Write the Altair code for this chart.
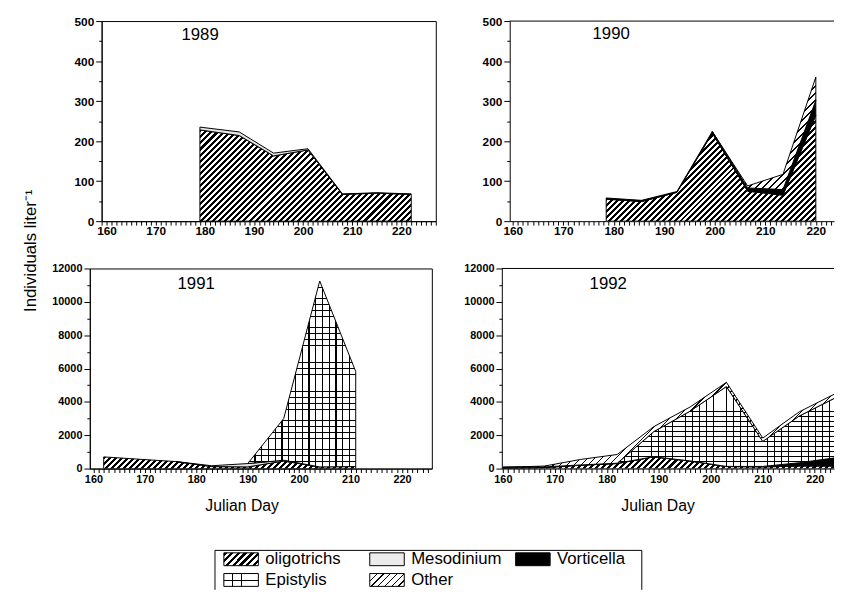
import math
import altair as alt
import numpy as np
import pandas as pd

FONT = "Liberation Sans"
SPECIES = ["oligotrichs", "Vorticella", "Mesodinium", "Epistylis", "Other"]  # stacking order, bottom -> top
Y_TITLE = "Individuals liter\u207b\u00b9"
X_TITLE = "Julian Day"

# ---------------- data ----------------
days_1989 = [179, 187, 194, 201, 208, 215, 222]
oligotrichs_1989 = [228, 214, 163, 178, 67, 70, 67]
mesodinium_1989 = [7, 9, 7, 3, 1, 1, 1]

days_1990 = [178.5, 185.5, 192.5, 199.5, 206.5, 213.5, 220]
oligotrichs_1990 = [55, 49, 72, 220, 75, 65, 265]
vorticella_1990 = [3, 3, 2, 4, 8, 14, 37]
other_1990 = [0, 0, 0, 0, 5, 38, 58]

days_1991 = [162, 169, 176, 183, 190, 197, 204, 211]
oligotrichs_1991 = [700, 560, 420, 120, 100, 450, 100, 120]
mesodinium_1991 = [0, 0, 0, 50, 200, 50, 0, 0]
epistylis_1991 = [0, 0, 0, 0, 0, 2500, 11150, 5700]

days_1992 = [160, 168, 175, 182, 189, 196, 203, 210, 217, 224]
oligotrichs_1992 = [20, 60, 200, 300, 700, 450, 120, 100, 150, 150]
vorticella_1992 = [60, 40, 20, 20, 10, 10, 10, 30, 200, 500]
epistylis_1992 = [0, 0, 0, 0, 1500, 2980, 4790, 1500, 2800, 3600]
other_1992 = [0, 50, 330, 525, 300, 250, 250, 200, 250, 250]

legend_names = ["oligotrichs", "Mesodinium", "Vorticella", "Epistylis", "Other"]
legend_cols = [0, 1, 2, 0, 1]
legend_rows = [0, 0, 0, 1, 1]


# ---------------- pattern fills built from linear gradients ----------------
def stripe_stops(n, frac, line, bg):
    out = []
    for i in range(n):
        s, e, f = i / n, (i + frac) / n, (i + 1) / n
        out += [(s, line), (e, line), (e, bg), (f, bg)]
    return [alt.GradientStop(offset=round(o, 5), color=c) for o, c in out]


def pow2_count(length, spacing, frac):
    """stripe count as a power of two, line fraction snapped to 1/256 steps"""
    raw = max(1.0, length / spacing)
    n = 2 ** int(round(math.log2(raw)))
    n = max(2, min(64, n))
    per = 256 // n
    k = max(1, int(round(frac * per)))
    return n, k / per


def diag_fill(W, H, spacing, frac, line="black", bg="white"):
    W, H = max(W, 1.0), max(H, 1.0)
    k = (W + H) / (W * W + H * H)
    n = max(1, int(round((W + H) / math.sqrt(2) / spacing)))
    return alt.LinearGradient(gradient="linear", stops=stripe_stops(n, frac, line, bg),
                              x1=0, y1=0, x2=round(k * W, 5), y2=round(k * H, 5))


def vlines_fill(W, spacing, frac, line="black", bg="white"):
    n, fr = pow2_count(max(W, 1.0), spacing, frac)
    return alt.LinearGradient(gradient="linear", stops=stripe_stops(n, fr, line, bg),
                              x1=0, y1=0, x2=1, y2=0)


def hlines_fill(H, spacing, frac, line="black", bg="rgba(255,255,255,0)"):
    n, fr = pow2_count(max(H, 1.0), spacing, frac)
    return alt.LinearGradient(gradient="linear", stops=stripe_stops(n, fr, line, bg),
                              x1=0, y1=0, x2=0, y2=1)


def fills_for(sp, W, H, grid_sp=6.5):
    """list of (fill, stroked) layers for one species"""
    if sp == "oligotrichs":
        return [(diag_fill(W, H, 4.3, 0.5), True)]
    if sp == "Other":
        return [(diag_fill(W, H, 5.0, 0.22), True)]
    if sp == "Mesodinium":
        return [("#e4e4e4", True)]
    if sp == "Vorticella":
        return [("black", True)]
    if sp == "Epistylis":
        return [(vlines_fill(W, grid_sp, 0.17), True), (hlines_fill(H, grid_sp, 0.17), False)]
    return []


# ---------------- one panel ----------------
def panel(year, days, series, xdom, ymax, ystep, lstep, width, height, yext, lab_fs,
          label_px, left_frame, xtitle_x=None):
    pxd = width / (xdom[1] - xdom[0])
    pxu = height / ymax
    rows, boxes = [], {}
    base = np.zeros(len(days))
    for order, sp in enumerate(SPECIES):
        if sp not in series:
            continue
        v = np.array(series[sp], dtype=float)
        nz = [i for i, x in enumerate(v) if x > 0]
        lo, hi = max(nz[0] - 1, 0), min(nz[-1] + 1, len(v) - 1)
        y0, y1 = base.copy(), base + v
        boxes[sp] = ((days[hi] - days[lo]) * pxd,
                     (y1[lo:hi + 1].max() - y0[lo:hi + 1].min()) * pxu)
        for i in range(lo, hi + 1):
            rows.append({"day": days[i], "species": sp, "order": order, "count": v[i]})
        base = y1
    df = pd.DataFrame(rows)

    xvals = list(range(int(math.ceil(xdom[0])), int(math.floor(xdom[1])) + 1))
    xaxis_kw = dict(values=xvals, format="d", labelExpr="datum.value % 10 === 0 ? datum.label : ''",
                    tickSize=4, labelFlush=False, labelOverlap=False, grid=False,
                    labelFont=FONT, labelFontSize=lab_fs, labelFontWeight="bold", labelColor="black",
                    labelPadding=1, domainColor="black", tickColor="black")
    if xtitle_x is not None:
        xaxis_kw.update(title=X_TITLE, titleFont=FONT, titleFontSize=16, titleFontWeight="normal",
                        titleColor="black", titleX=xtitle_x, titleY=38, titleBaseline="middle",
                        titleAlign="center", titleAngle=0)
    else:
        xaxis_kw.update(title=None)
    xaxis = alt.Axis(**xaxis_kw)

    yaxis = alt.Axis(values=list(range(0, ymax + 1, ystep)), format="d",
                     labelExpr=f"datum.value % {lstep} === 0 ? datum.label : ''",
                     tickSize={"condition": {"test": f"datum.value % {lstep} === 0", "value": 6},
                               "value": 3},
                     title=None, grid=False, labelFont=FONT, labelFontSize=lab_fs, labelFontWeight="bold",
                     labelColor="black", labelPadding=2, domainColor="black", tickColor="black",
                     minExtent=yext, maxExtent=yext, labelOverlap=False, labelFlush=False)

    X = alt.X("day:Q", scale=alt.Scale(domain=list(xdom), nice=False, zero=False), axis=xaxis)
    Y = alt.Y("y1:Q", scale=alt.Scale(domain=[0, ymax], nice=False), axis=yaxis)

    stacked = alt.Chart(df).transform_stack(
        stack="count", groupby=["day"], as_=["y0", "y1"],
        sort=[alt.SortField(field="order", order="ascending")])

    layers = []
    for sp in SPECIES:
        if sp not in boxes:
            continue
        W, H = boxes[sp]
        for fill, stroked in fills_for(sp, W, H):
            kw = dict(fill=fill, interpolate="linear", clip=True)
            if stroked:
                kw.update(stroke="black", strokeWidth=1)
            else:
                kw.update(strokeWidth=0)
            layers.append(stacked.transform_filter(alt.datum.species == sp)
                          .mark_area(**kw).encode(x=X, y=Y, y2="y0:Q"))

    one = alt.Data(values=[{"label": str(year)}])
    lab = alt.Chart(one).mark_text(
        align="left", baseline="middle", font=FONT, fontSize=17, color="black").encode(
        x=alt.value(label_px[0]), y=alt.value(label_px[1]), text="label:N")
    layers.append(lab)

    if not left_frame:
        top = alt.Chart(one).mark_rule(color="black", strokeWidth=1).encode(
            x=alt.value(0), x2=alt.value(width), y=alt.value(0))
        layers.append(top)
        view = alt.ViewBackground(stroke="transparent")
    else:
        view = alt.ViewBackground(stroke="black", strokeWidth=1)

    return alt.layer(*layers).properties(width=width, height=height, view=view)


p1989 = panel(1989, days_1989, {"oligotrichs": oligotrichs_1989, "Mesodinium": mesodinium_1989},
              (159, 227), 500, 50, 100, 339, 203, 40, 12, (81, 14.5), True)
p1990 = panel(1990, days_1990, {"oligotrichs": oligotrichs_1990, "Vorticella": vorticella_1990,
                                "Other": other_1990},
              (159.4, 223.6), 500, 50, 100, 329, 203, 40, 12, (84, 13.5), False)
p1991 = panel(1991, days_1991, {"oligotrichs": oligotrichs_1991, "Mesodinium": mesodinium_1991,
                                "Epistylis": epistylis_1991},
              (159.3, 225.8), 12000, 1000, 2000, 347, 203, 40, 11, (89, 16), True, xtitle_x=154)
p1992 = panel(1992, days_1992, {"oligotrichs": oligotrichs_1992, "Vorticella": vorticella_1992,
                                "Epistylis": epistylis_1992, "Other": other_1992},
              (159.8, 223.7), 12000, 1000, 2000, 337, 203, 40, 11, (89, 15.5), False, xtitle_x=158)

# ---------------- legend ----------------
LEG_W, LEG_H = 433, 40
SW_W, SW_H = 35, 13
leg_df = pd.DataFrame({"name": legend_names, "col": legend_cols, "row": legend_rows})
leg_base = alt.Chart(leg_df).transform_calculate(
    c2="datum.col + 0.2365", r0="datum.row - 0.31", r1="datum.row + 0.31")
LX = alt.X("col:Q", scale=alt.Scale(domain=[0, 2], range=[9, 305]), axis=None)
LY = alt.Y("r0:Q", scale=alt.Scale(domain=[0, 1], range=[9, 30]), axis=None)

legend_fills = {
    "oligotrichs": [(diag_fill(SW_W, SW_H, 5.2, 0.5), True)],
    "Mesodinium": [("#ececec", True)],
    "Vorticella": [("black", True)],
    "Epistylis": [(vlines_fill(SW_W, 11.5, 0.06), True), (hlines_fill(SW_H, 6.5, 0.1), False)],
    "Other": [(diag_fill(SW_W, SW_H, 5.0, 0.2), True)],
}
leg_layers = []
for nm in legend_names:
    for fill, stroked in legend_fills[nm]:
        kw = dict(fill=fill)
        if stroked:
            kw.update(stroke="black", strokeWidth=1)
        else:
            kw.update(strokeWidth=0)
        leg_layers.append(leg_base.transform_filter(alt.datum.name == nm).mark_rect(**kw)
                          .encode(x=LX, x2="c2:Q", y=LY, y2="r1:Q"))
leg_layers.append(alt.Chart(leg_df).mark_text(
    align="left", baseline="middle", dx=42, font=FONT, fontSize=17, color="black").encode(
    x=LX, y=alt.Y("row:Q", scale=alt.Scale(domain=[0, 1], range=[9, 30]), axis=None), text="name:N"))
one = alt.Data(values=[{"k": 1}])
leg_layers.append(alt.Chart(one).mark_rule(color="black", strokeWidth=1).encode(
    x=alt.value(0), y=alt.value(0), y2=alt.value(LEG_H)))
leg_layers.append(alt.Chart(one).mark_rule(color="black", strokeWidth=1).encode(
    x=alt.value(LEG_W), y=alt.value(0), y2=alt.value(LEG_H)))
leg_layers.append(alt.Chart(one).mark_rule(color="black", strokeWidth=1).encode(
    x=alt.value(0), x2=alt.value(LEG_W), y=alt.value(0)))
legend = alt.layer(*leg_layers).properties(
    width=LEG_W, height=LEG_H, view=alt.ViewBackground(stroke="transparent"))


def spacer(w, h=10):
    return alt.Chart(one).mark_text(text="").encode(x=alt.value(0), y=alt.value(0)).properties(
        width=w, height=h, view=alt.ViewBackground(stroke="transparent"))


ytitle = alt.Chart(alt.Data(values=[{"t": Y_TITLE}])).mark_text(
    angle=270, align="center", baseline="middle", font=FONT, fontSize=17, color="black").encode(
    text="t:N", x=alt.value(22), y=alt.value(233)).properties(
    width=30, height=470, view=alt.ViewBackground(stroke="transparent"))

row1 = alt.hconcat(spacer(20), alt.hconcat(p1989, p1990, spacing=33), spacing=0)
row2 = alt.hconcat(spacer(8), alt.hconcat(p1991, p1992, spacing=29), spacing=0)
row3 = alt.hconcat(spacer(175, LEG_H), legend, spacing=0)
right = alt.concat(alt.concat(row1, row2, columns=1, spacing=24), row3, columns=1, spacing=29)
chart = alt.hconcat(ytitle, right, spacing=0).properties(
    padding={"left": 0, "top": 2, "right": 0, "bottom": 0},
    background="white")

chart.save("out.html", embed_options={"renderer": "svg", "actions": False})
